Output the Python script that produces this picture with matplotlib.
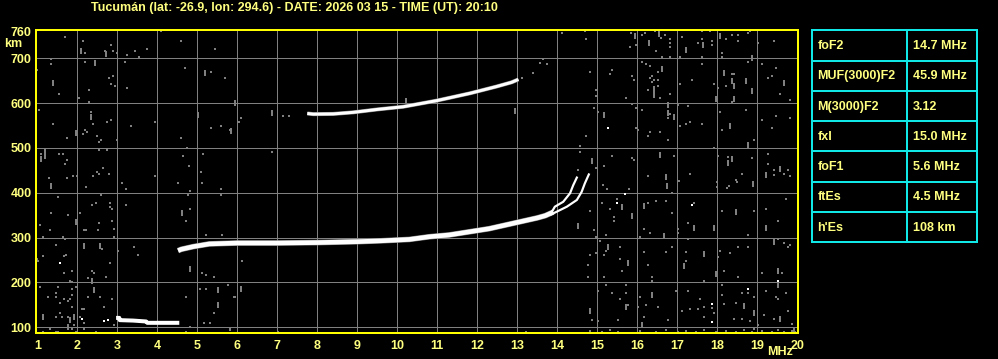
import matplotlib
matplotlib.use("Agg")
import matplotlib.pyplot as plt

# --- data ------------------------------------------------------------------
title = "Tucumán (lat: -26.9, lon: 294.6) - DATE: 2026 03 15 - TIME (UT): 20:10"

freq_ticks = list(range(1, 21))
height_ticks = [100, 200, 300, 400, 500, 600, 700, 760]

# F layer, ordinary trace (thick band) and its two cusps near foF2
f_band_f = [4.52, 4.6, 4.9, 5.3, 6.0, 7.0, 8.0, 9.0, 9.6, 10.3, 10.8, 11.3,
            11.8, 12.3, 12.6, 13.1, 13.5, 13.7, 13.9]
f_band_h = [271, 274, 280, 286, 288, 288, 289, 291, 293, 296, 302, 306,
            313, 320, 326, 336, 344, 349, 357]
o_cusp_f = [13.85, 13.94, 14.15, 14.32, 14.40, 14.49]
o_cusp_h = [355, 369, 380, 399, 417, 434]
x_cusp_f = [13.85, 13.99, 14.24, 14.49, 14.61, 14.69, 14.79]
x_cusp_h = [352, 358, 369, 384, 402, 421, 441]

# second hop F trace
f2hop_f = [7.75, 7.9, 8.4, 8.9, 9.5, 10.15, 10.98, 11.82, 12.48, 12.86, 13.03]
f2hop_h = [577, 575.5, 576, 579.5, 586, 592, 605.5, 622, 637, 646.5, 653]

# sporadic E trace
es_f = [2.97, 3.05, 3.06, 3.40, 3.72, 3.75, 4.55]
es_h = [121, 121, 116, 115, 113, 110, 110]

# scattered noise echoes (small gray dots)
noise_f = [1.69, 2.14, 2.19, 2.84, 2.69, 2.90, 2.99, 3.24, 3.44, 3.54, 3.74, 4.09, 4.59, 5.44,
           1.34, 1.34, 2.19, 3.19, 1.0, 2.79, 2.89, 2.84, 2.94, 3.24, 2.29, 1.54, 2.04, 2.29,
           4.69, 5.34, 5.69, 1.04, 2.34, 2.84, 2.74, 2.39, 3.94, 3.34, 1.39, 2.19, 2.24, 2.14,
           2.49, 2.59, 2.54, 1.74, 2.99, 5.34, 5.59, 4.59, 1.09, 1.54, 1.64, 1.74, 1.69, 2.54,
           2.74, 2.64, 2.49, 2.54, 2.39, 2.79, 1.89, 1.99, 1.74, 1.29, 3.94, 4.74, 4.64, 5.14,
           4.79, 5.09,
           2.23, 3.13, 3.23, 4.53, 5.13, 5.59, 4.83, 4.78, 5.59, 1.53, 2.59, 2.48, 2.38, 2.83,
           2.83, 2.88, 3.23, 4.83, 1.34, 1.78, 2.08, 1.08, 2.55, 2.88, 4.73, 1.33, 2.18, 2.23,
           2.53, 2.93, 5.23, 5.63, 1.14, 1.64, 1.69, 2.93, 1.48, 2.63, 3.03, 3.43, 3.53, 1.73,
           1.68, 1.14, 1.0, 1.03, 2.83, 1.68, 1.88, 2.38, 2.43, 2.73, 2.28, 1.83, 1.88, 5.13,
           5.23, 5.43, 1.08, 1.53, 1.88, 1.98, 1.48, 1.28, 1.48, 1.68, 1.83, 1.88, 2.28, 2.58,
           2.88, 1.58, 1.78, 1.88, 2.68, 2.13, 2.18, 1.48, 1.58, 1.63, 1.78, 2.08, 2.18, 1.88,
           1.93, 1.33, 1.14, 1.48, 1.53, 1.98, 2.18, 2.48, 2.93, 4.83, 5.33, 5.83, 5.08, 5.23,
           5.78, 5.93, 4.73, 5.43, 5.18, 5.82, 7.02, 4.73,
           6.09, 6.04, 5.83, 6.88, 7.30, 7.15, 14.13, 14.69, 14.73, 14.73, 14.58, 14.58, 14.53,
           14.78, 14.78, 6.13, 5.94, 13.23, 13.40, 13.57, 13.65, 13.74, 13.12,
           15.84, 16.13, 16.19, 16.44, 16.69, 16.59, 16.83, 16.83, 16.83, 15.98, 15.83, 17.13,
           16.48, 16.63, 16.83, 17.08, 17.63, 17.83, 17.63, 17.53, 17.88, 17.88, 18.23, 18.38,
           18.53, 18.53, 18.78, 18.83, 19.03, 19.43, 18.13, 18.13, 17.63, 18.78, 19.13, 14.83,
           15.33, 15.38, 15.88, 15.93, 16.13, 16.23, 16.33, 16.53, 16.38, 16.33, 16.43, 16.38,
           16.53, 16.53, 16.28, 16.58, 16.83, 17.08, 17.37, 17.63, 17.93, 18.03, 18.23, 18.38,
           18.43, 18.38, 19.28, 19.38, 19.48, 19.58, 19.83, 15.73, 14.98, 14.98, 14.93, 15.03,
           15.88, 15.98, 16.13, 16.83, 16.78, 17.03, 17.28, 18.08, 18.73, 19.13, 19.48, 19.83,
           15.98, 16.03, 16.33, 16.28, 16.58, 16.78, 17.08, 17.23, 17.33, 17.63, 18.13, 18.93,
           19.38, 17.93, 15.38, 15.18, 14.98, 15.88, 15.93, 16.93, 16.28, 17.33, 18.03, 18.28,
           18.63, 18.48, 18.88, 19.28, 19.28, 19.43, 19.68, 19.78, 19.43, 19.83,
           15.14, 15.24, 15.79, 15.49, 17.04, 17.99, 17.99, 18.24, 18.29, 18.49, 16.88, 14.83,
           15.13, 15.33, 15.43, 15.43, 16.28, 16.48, 16.73, 16.88, 17.43, 17.28, 17.03, 17.03,
           16.18, 16.33, 18.13, 18.93, 19.23, 19.53, 19.73, 18.78, 14.93, 14.98, 15.23, 16.08,
           15.08, 15.23, 14.98, 14.83, 15.18, 15.58, 15.58, 15.63, 15.18, 16.18, 16.28, 16.38,
           16.38, 16.73, 16.88, 17.23, 17.23, 17.28, 17.68, 18.08, 18.03, 18.33, 18.53, 18.78,
           18.18, 18.53, 19.13, 19.63, 19.53, 19.68, 19.78, 19.83, 15.03, 15.23, 15.38, 15.73,
           15.58, 15.73, 15.78, 16.03, 16.08, 16.23, 16.18, 16.53, 16.78, 16.98, 17.28, 17.58,
           17.13, 17.33, 17.53, 17.68, 17.68, 17.88, 17.93, 18.13, 18.13, 18.18, 18.48, 18.78,
           18.63, 18.93, 19.23, 19.48, 19.53, 19.73, 19.78, 19.18, 18.43, 18.63, 18.83, 19.43,
           19.03, 19.88, 15.03, 15.53, 14.88,
           14.83, 15.13, 15.33, 15.53, 16.08, 16.48, 16.73, 17.03, 17.23, 17.48, 17.68, 17.98,
           18.23, 18.48, 18.68, 18.88, 18.93, 19.13, 19.38, 19.53, 19.68, 19.88, 19.95]
noise_h = [748, 739, 712, 730, 717, 717, 712, 708, 717, 704, 721, 762, 739, 721,
           698, 688, 692, 692, 675, 657, 661, 643, 639, 634, 629, 621, 611, 603,
           679, 670, 657, 585, 581, 563, 559, 554, 559, 550, 554, 541, 536, 532,
           527, 518, 514, 523, 518, 545, 550, 523, 487, 487, 487, 474, 465, 496,
           496, 456, 447, 443, 438, 443, 438, 438, 434, 434, 438, 501, 483, 487,
           460, 447,
           414, 423, 409, 423, 423, 409, 405, 396, 396, 391, 396, 378, 373, 378,
           369, 365, 373, 365, 356, 351, 356, 329, 333, 338, 338, 316, 316, 316,
           316, 320, 307, 307, 302, 302, 298, 302, 284, 275, 271, 280, 262, 262,
           258, 258, 253, 249, 244, 222, 226, 226, 222, 213, 209, 204, 200, 222,
           217, 213, 191, 191, 186, 191, 177, 168, 168, 164, 164, 173, 168, 168,
           164, 155, 159, 146, 146, 140, 140, 124, 131, 122, 122, 122, 109, 96,
           105, 96, 90, 90, 90, 90, 96, 90, 105, 101, 109, 97, 186, 186,
           195, 168, 168, 131, 109, 95, 90, 90,
           568, 559, 540, 492, 571, 572, 757, 762, 744, 527, 504, 492, 451,
           239, 213, 249, 168, 90, 668, 690, 698, 687, 657,
           757, 753, 757, 762, 753, 746, 744, 735, 726, 730, 726, 748,
           717, 704, 704, 704, 762, 762, 744, 735, 739, 730, 744, 753,
           753, 739, 757, 762, 735, 739, 712, 704, 704, 692, 688, 670,
           666, 675, 661, 652, 692, 688, 683, 670, 661, 657, 652, 648,
           652, 639, 630, 612, 621, 643, 652, 688, 643, 634, 639, 666,
           666, 603, 657, 661, 679, 621, 608, 612, 630, 617, 590, 581,
           599, 590, 585, 576, 567, 597, 594, 581, 585, 563, 572, 567,
           545, 541, 536, 527, 536, 518, 550, 554, 559, 554, 541, 518,
           545, 501, 483, 460, 456, 478, 474, 483, 438, 443, 483, 481,
           443, 429, 478, 487, 465, 452, 443, 452, 440, 438,
           418, 409, 409, 387, 427, 425, 414, 411, 416, 425, 400, 360,
           378, 365, 347, 338, 378, 382, 382, 356, 378, 333, 320, 311,
           320, 311, 360, 360, 365, 338, 387, 307, 316, 302, 307, 302,
           293, 271, 266, 262, 262, 280, 253, 226, 213, 267, 240, 213,
           204, 267, 280, 267, 249, 298, 204, 271, 257, 266, 280, 280,
           226, 213, 222, 222, 298, 289, 280, 284, 182, 195, 177, 195,
           164, 177, 150, 146, 168, 150, 124, 146, 116, 182, 182, 164,
           137, 140, 140, 145, 124, 142, 133, 195, 173, 153, 155, 177,
           177, 168, 182, 168, 164, 177, 137, 128, 119, 119, 115, 119,
           106, 107, 115, 116, 116,
           92, 90, 94, 90, 92, 90, 94, 90, 92, 90, 94, 90,
           92, 90, 94, 90, 96, 92, 90, 94, 90, 92, 90]

# taller vertical noise streaks
streak_f = [2.09, 2.73, 2.44, 1.39, 5.19, 5.94, 2.34, 5.03, 1.98, 5.84, 1.19, 1.19, 1.09,
            1.34, 4.63, 1.98, 2.18, 2.58, 2.38, 4.83, 2.43, 1.14, 1.83, 1.93, 1.78, 5.53, 5.53,
            6.88, 10.23, 12.94, 14.53, 6.09,
            15.94, 16.54, 16.29, 17.23, 17.65, 18.08, 18.88, 16.63, 16.43, 16.43, 17.98, 18.18,
            18.38, 18.43, 18.43, 18.73, 18.88, 19.68, 15.18, 16.78, 16.78, 16.93, 18.33, 18.78,
            14.88, 16.58, 16.73, 18.38, 18.28, 19.23, 19.58,
            18.89, 15.63, 15.88, 16.18, 17.43, 17.93, 18.48, 19.23, 16.68, 16.74, 15.28, 15.78,
            17.18, 17.68, 17.98, 19.53, 19.53, 19.43, 15.73, 16.38, 16.13, 18.68, 18.93, 19.58,
            14.83, 19.93]
streak_h = [717, 710, 690, 646, 668, 601, 570, 574, 534, 539, 482, 494, 476,
            415, 354, 336, 282, 282, 204, 229, 184, 124, 116, 124, 101, 184, 150,
            579, 605, 583, 327, 185,
            750, 755, 735, 718, 730, 750, 701, 677, 632, 619, 610, 668,
            650, 639, 610, 650, 628, 646, 574, 597, 579, 570, 550, 507,
            472, 485, 436, 476, 467, 440, 454,
            420, 369, 349, 371, 322, 322, 358, 322, 304, 416, 280, 244,
            237, 264, 220, 226, 195, 291, 146, 173, 106, 148, 133, 119,
            137, 92]

# isolated strong (white) echoes
white_f = [1.58, 2.13, 2.78, 2.67, 15.28, 15.69, 15.49, 17.38, 17.88, 17.88, 18.78, 19.53]
white_h = [244, 118, 116, 113, 544, 398, 378, 373, 153, 112, 186, 204]

# scaled parameters table
param_names = ["foF2", "MUF(3000)F2", "M(3000)F2", "fxI", "foF1", "ftEs", "h'Es"]
param_values = ["14.7 MHz", "45.9 MHz", "3.12", "15.0 MHz", "5.6 MHz", "4.5 MHz", "108 km"]

# --- drawing ---------------------------------------------------------------
YELLOW = "#ffff00"
TEXT = "#ffff80"
GRID = "#808080"
CYAN = "#10e8e8"
PX = 0.72  # one pixel in points at dpi 100
FONT = ["Liberation Sans", "DejaVu Sans"]

W, H = 998, 359
fig = plt.figure(figsize=(W / 100, H / 100), dpi=100, facecolor="black")

ax = fig.add_axes([35.7 / W, 1 - 333 / H, 762.3 / W, 303.5 / H], facecolor="black")
ax.set_xlim(0.96, 20.02)
ax.set_ylim(87.3, 764.3)

for v in freq_ticks[1:-1]:
    ax.axvline(v, color=GRID, lw=PX, zorder=1)
for v in height_ticks[:-1]:
    ax.axhline(v, color=GRID, lw=PX, zorder=1)

ax.scatter(noise_f, noise_h, s=(2.2 * PX) ** 2, marker="s", c=GRID,
           linewidths=0, zorder=2)
bar_marker = [(-0.2, -0.5), (0.2, -0.5), (0.2, 0.5), (-0.2, 0.5)]
ax.scatter(streak_f, streak_h, s=(5.5 * PX) ** 2, marker=bar_marker, c=GRID,
           linewidths=0, zorder=2)
ax.scatter(white_f, white_h, s=(2.2 * PX) ** 2, marker="s", c="white",
           linewidths=0, zorder=3)

ax.plot(f_band_f, f_band_h, color=GRID, lw=5.6 * PX, solid_capstyle="butt", zorder=3)
ax.plot(f_band_f, f_band_h, color="white", lw=4.6 * PX, solid_capstyle="butt", zorder=4)
ax.plot(o_cusp_f, o_cusp_h, color="white", lw=2.2 * PX, zorder=4)
ax.plot(x_cusp_f, x_cusp_h, color="white", lw=2.2 * PX, zorder=4)
ax.plot(f2hop_f, f2hop_h, color=GRID, lw=4 * PX, solid_capstyle="butt", zorder=3)
ax.plot(f2hop_f, f2hop_h, color="white", lw=3 * PX, solid_capstyle="butt", zorder=4)
ax.plot(es_f, es_h, color="white", lw=4 * PX, solid_capstyle="butt", zorder=4)

for s in ax.spines.values():
    s.set_color(YELLOW)
    s.set_linewidth(2 * PX)

ax.set_xticks(freq_ticks)
ax.set_yticks(height_ticks)
ax.set_xticklabels([str(v) for v in freq_ticks])
ax.set_yticklabels([str(v) for v in height_ticks])
ax.tick_params(length=0, colors=TEXT, labelsize=9)
ax.tick_params(axis="x", pad=5)
ax.tick_params(axis="y", pad=3)
for lab in ax.get_xticklabels() + ax.get_yticklabels():
    lab.set_family(FONT)
    lab.set_fontweight("bold")

fig.text(13.5 / W, 1 - 44 / H, "km", color=TEXT, fontsize=9, fontweight="bold",
         family=FONT, ha="center", va="center")
fig.text(780 / W, 1 - 352 / H, "MHz", color=TEXT, fontsize=9, fontweight="bold",
         family=FONT, ha="center", va="center")
fig.text(294 / W, 1 - 7.5 / H, title, color=TEXT, fontsize=9, fontweight="bold",
         family=FONT, ha="center", va="center")

# parameters table
tab = fig.add_axes([812.3 / W, 1 - 242.3 / H, 165 / W, 212 / H], facecolor="black")
tab.set_xlim(0, 165)
tab.set_ylim(len(param_names), 0)
tab.set_xticks([])
tab.set_yticks([])
for s in tab.spines.values():
    s.set_color(CYAN)
    s.set_linewidth(2 * PX)
for i in range(1, len(param_names)):
    tab.axhline(i, color=CYAN, lw=2 * PX)
tab.axvline(95, color=CYAN, lw=2 * PX)
for i, (name, val) in enumerate(zip(param_names, param_values)):
    tab.text(5, i + 0.52, name, color=TEXT, fontsize=9, fontweight="bold",
             family=FONT, ha="left", va="center")
    tab.text(100.4, i + 0.52, val, color=TEXT, fontsize=9, fontweight="bold",
             family=FONT, ha="left", va="center")

fig.savefig("out.png", dpi=100, facecolor="black")
